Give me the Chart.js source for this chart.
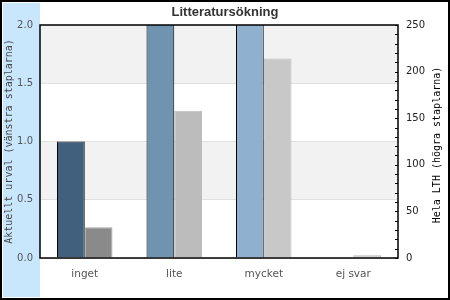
<!DOCTYPE html>
<html>
<head>
<meta charset="utf-8">
<script src="https://cdn.jsdelivr.net/npm/chart.js@4"></script>
<style>
  body { margin: 0; background: #fff; }
  canvas { display: block; }
</style>
</head>
<body>
<canvas id="chart" width="450" height="300"></canvas>
<script>
// data
var categories = ['inget', 'lite', 'mycket', 'ej svar'];
var urvalValues = [1, 3, 3, 0];          // left bars (above 2 are cut off by the axis)
var lthValues = [33, 158, 214, 3];       // right bars
var urvalColors = ['#40607e', '#7094b0', '#8fb1cf', '#8fb1cf'];
var lthColors = ['#8a8a8a', '#bcbcbc', '#c8c8c8', '#c8c8c8'];
var lthBorders = ['#a8a8a8', '#bcbcbc', '#bbbbbb', '#b8b8b8'];

var decor = {
    id: 'decor',
    beforeDraw: function (chart) {
        var ctx = chart.ctx;
        var area = chart.chartArea;
        var y = chart.scales.y;
        ctx.save();
        ctx.fillStyle = '#fff';
        ctx.fillRect(0, 0, chart.width, chart.height);
        // blue strip behind left axis
        ctx.fillStyle = '#c8e7fd';
        ctx.fillRect(3, 3, area.left - 3, chart.height - 6);
        // alternating bands
        ctx.fillStyle = '#f2f2f2';
        [[1.5, 2.0], [0.5, 1.0]].forEach(function (b) {
            var top = y.getPixelForValue(b[1]);
            var bot = y.getPixelForValue(b[0]);
            ctx.fillRect(area.left, top, area.right - area.left, bot - top);
        });
        ctx.restore();
    },
    afterDraw: function (chart) {
        var ctx = chart.ctx;
        var area = chart.chartArea;
        var y1 = chart.scales.y1;
        ctx.save();
        // frame
        ctx.strokeStyle = '#000';
        ctx.lineWidth = 1.5;
        ctx.strokeRect(area.left, area.top, area.right - area.left, area.bottom - area.top);
        // little tick marks on right axis
        ctx.lineWidth = 1;
        y1.ticks.forEach(function (t) {
            var py = Math.round(y1.getPixelForValue(t.value)) + 0.5;
            ctx.beginPath();
            ctx.moveTo(area.right - 3, py);
            ctx.lineTo(area.right, py);
            ctx.stroke();
        });
        // right axis title, reads bottom to top
        ctx.fillStyle = '#000';
        ctx.font = '10px "DejaVu Sans Mono"';
        ctx.textAlign = 'center';
        ctx.textBaseline = 'middle';
        ctx.translate(437, 145);
        ctx.rotate(-Math.PI / 2);
        ctx.fillText('Hela LTH (högra staplarna)', 0, 0);
        ctx.setTransform(1, 0, 0, 1, 0, 0);
        // outer border
        ctx.lineWidth = 2;
        ctx.strokeRect(1, 1, chart.width - 2, chart.height - 2);
        ctx.restore();
    }
};

new Chart(document.getElementById('chart'), {
    type: 'bar',
    data: {
        labels: categories,
        datasets: [{
            label: 'Aktuellt urval',
            data: urvalValues,
            yAxisID: 'y',
            backgroundColor: urvalColors,
            borderColor: '#000',
            borderWidth: 1,
            categoryPercentage: 0.62,
            barPercentage: 1
        }, {
            label: 'Hela LTH',
            data: lthValues,
            yAxisID: 'y1',
            backgroundColor: lthColors,
            borderColor: lthBorders,
            borderWidth: 1,
            categoryPercentage: 0.62,
            barPercentage: 1
        }]
    },
    options: {
        responsive: false,
        animation: false,
        layout: { padding: 0 },
        plugins: {
            legend: { display: false },
            tooltip: { enabled: false },
            title: {
                display: true,
                text: 'Litteratursökning',
                color: '#333',
                font: { family: '"Liberation Sans", Arial', size: 13, weight: 'bold' },
                padding: { top: 4.5, bottom: 4.9 }
            }
        },
        scales: {
            x: {
                grid: { display: false, drawTicks: false },
                border: { display: false },
                ticks: {
                    color: '#555',
                    font: { family: '"DejaVu Sans"', size: 10.5 },
                    padding: 10
                },
                afterFit: function (s) { s.height = 42; }
            },
            y: {
                position: 'left',
                min: 0,
                max: 2,
                grid: { color: '#e0e0e0', drawTicks: false },
                border: { display: false },
                ticks: {
                    stepSize: 0.5,
                    color: '#555',
                    padding: 7,
                    font: { family: '"DejaVu Sans"', size: 10 },
                    callback: function (v) { return v.toFixed(1); }
                },
                title: {
                    display: true,
                    text: 'Aktuellt urval (vänstra staplarna)',
                    color: '#444',
                    font: { family: '"DejaVu Sans Mono"', size: 10 },
                    padding: { top: 3 }
                },
                afterFit: function (s) { s.width = 40; }
            },
            y1: {
                position: 'right',
                min: 0,
                max: 250,
                grid: { drawOnChartArea: false, drawTicks: false },
                border: { display: false },
                ticks: {
                    stepSize: 10,
                    autoSkip: false,
                    color: '#222',
                    padding: 8,
                    font: { family: '"DejaVu Sans"', size: 10 },
                    callback: function (v) { return v % 50 === 0 ? v : ''; }
                },
                afterFit: function (s) { s.width = 52; }
            }
        }
    },
    plugins: [decor]
});
</script>
</body>
</html>
